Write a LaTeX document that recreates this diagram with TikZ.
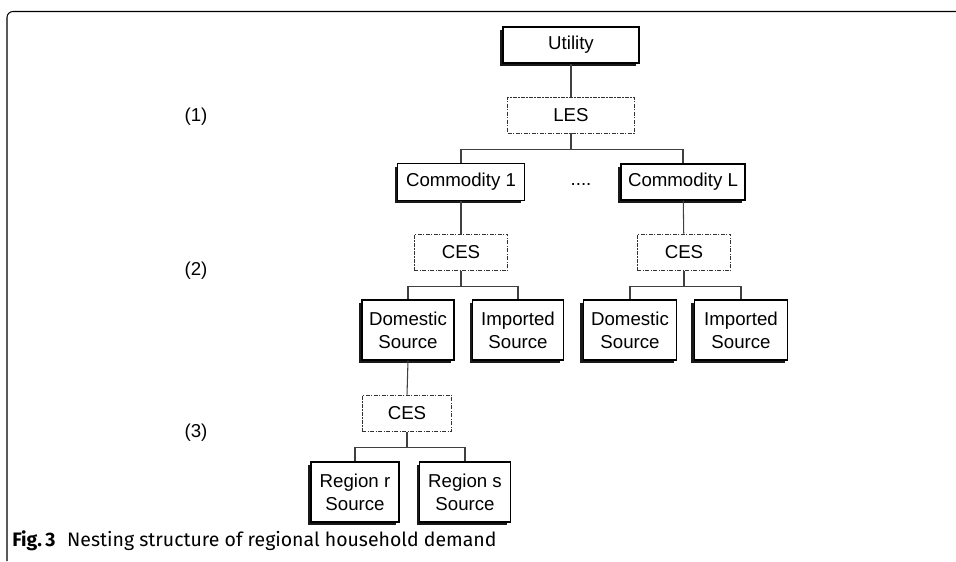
\documentclass[tikz,border=0pt]{standalone}
\usepackage{fontspec}
\setmainfont{Liberation Sans}
\newfontfamily\capfont{Fira Sans}
\usetikzlibrary{shadows}
\begin{document}
\begin{tikzpicture}[x=0.75pt,y=-0.75pt,
  every node/.style={font=\fontsize{14}{17}\selectfont, inner sep=0pt},
  solidbox/.style={draw=black, line width=0.8pt, fill=white, align=center,
    drop shadow={shadow xshift=-2.3pt, shadow yshift=-2.3pt, fill=black, opacity=0.9}},
  fnbox/.style={draw=black!80, line width=0.7pt, dash pattern=on 3pt off 1pt on 1pt off 1pt, fill=white},
  conn/.style={draw=black!75, line width=0.8pt}]
\useasboundingbox (0,0) rectangle (956,561);
% frame
\draw[line width=0.8pt, rounded corners=4.5pt] (7,561) -- (7,11.5) -- (956,11.5);
% nodes
\node[solidbox, minimum width=102pt, minimum height=27pt] (util) at (571,45) {Utility};
\node[fnbox, minimum width=95pt, minimum height=27pt] (les) at (571,115) {LES};
\node[solidbox, minimum width=95pt, minimum height=27.5pt] (c1) at (461,182) {Commodity 1};
\node (dots) at (581,184) {....};
\node[solidbox, minimum width=93pt, minimum height=27pt] (cl) at (683,182) {Commodity L};
\node[fnbox, minimum width=70pt, minimum height=27.5pt] (ces1) at (461,252.5) {CES};
\node[fnbox, minimum width=70pt, minimum height=27.5pt] (ces2) at (684,252.5) {CES};
\node[solidbox, minimum width=69pt, minimum height=45pt] (dom1) at (408,330) {Domestic\\Source};
\node[solidbox, minimum width=68pt, minimum height=45pt] (imp1) at (518,330) {Imported\\Source};
\node[solidbox, minimum width=70pt, minimum height=45pt] (dom2) at (630,330) {Domestic\\Source};
\node[solidbox, minimum width=70pt, minimum height=45pt] (imp2) at (741,330) {Imported\\Source};
\node[fnbox, minimum width=67pt, minimum height=27.5pt] (ces3) at (407,413.5) {CES};
\node[solidbox, minimum width=66pt, minimum height=45pt] (regr) at (355,492) {Region r\\Source};
\node[solidbox, minimum width=68pt, minimum height=45pt] (regs) at (465,492) {Region s\\Source};
% level labels
\node (l1) at (196,117) {(1)};
\node (l2) at (196,271) {(2)};
\node (l3) at (196,433) {(3)};
% connectors
\draw[conn] (util) -- (les);
\draw[conn] (les.south) -- ++(0,16) -| (c1.north);
\draw[conn] (les.south) -- ++(0,16) -| (cl.north);
\draw[conn] (c1) -- (ces1);
\draw[conn] (cl) -- (ces2);
\draw[conn] (ces1.south) -- ++(0,15) -| (dom1.north);
\draw[conn] (ces1.south) -- ++(0,15) -| (imp1.north);
\draw[conn] (ces2.south) -- ++(0,15) -| (dom2.north);
\draw[conn] (ces2.south) -- ++(0,15) -| (imp2.north);
\draw[conn] (dom1.south) -- (ces3.north);
\draw[conn] (ces3.south) -- ++(0,15) -| (regr.north);
\draw[conn] (ces3.south) -- ++(0,15) -| (regs.north);
% caption
\node[anchor=base west, font=\capfont\fontsize{14.6}{17}\selectfont] (cap) at (12,546) {\textbf{Fig.\,3}\hspace{0.6em}Nesting structure of regional household demand};
\end{tikzpicture}
\end{document}
